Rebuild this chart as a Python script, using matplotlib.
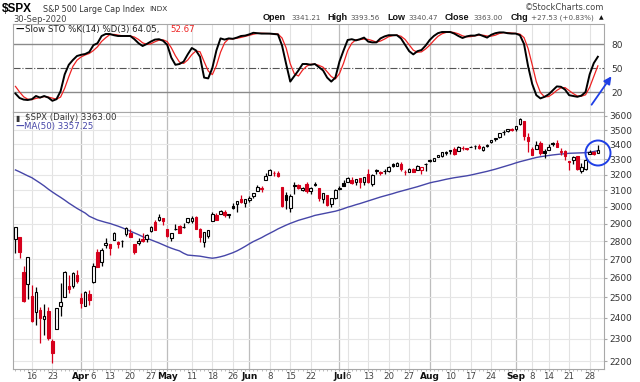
import numpy as np
import matplotlib.pyplot as plt
from matplotlib.patches import Ellipse, FancyArrowPatch
from matplotlib.ticker import FixedLocator, NullLocator

# S&P 500 daily candles, 10-Mar-2020 .. 30-Sep-2020
prev_close = 2746.56
opens = [
    2813.48, 2825.60, 2630.86, 2569.99,
    2508.59, 2425.66, 2436.50, 2393.48, 2431.94,
    2290.71, 2344.44, 2457.77, 2501.29, 2555.87,
    2558.98, 2614.69,
    2498.08, 2458.54, 2514.92,
    2578.28, 2738.65, 2685.00, 2776.99,
    2782.46, 2805.10, 2795.64, 2799.34, 2842.43,
    2845.62, 2784.81, 2787.89, 2810.42, 2812.64,
    2854.65, 2909.96, 2918.46, 2930.91,
    2869.09,
    2815.01, 2868.88, 2883.14, 2878.26, 2908.83,
    2915.46, 2939.50, 2865.86, 2794.54, 2829.95,
    2913.86, 2948.59, 2953.63, 2969.95, 2948.05,
    3004.08, 3015.65, 3046.61, 3025.17,
    3038.78, 3064.78, 3098.90, 3111.56, 3163.84,
    3199.92, 3213.32, 3213.42, 3123.53, 3071.04,
    2993.76, 3131.00, 3136.13, 3101.64, 3140.29,
    3094.42, 3138.70, 3114.40, 3046.60, 3073.20,
    3018.59, 3050.20,
    3105.92, 3143.64,
    3155.29, 3166.44, 3153.07, 3176.17, 3152.47,
    3205.08, 3141.11, 3225.98, 3208.36, 3224.21,
    3224.29, 3268.52, 3254.86, 3271.64, 3218.58,
    3219.84, 3234.27, 3227.22, 3231.76, 3270.45,
    3288.26, 3289.92, 3317.37, 3323.17, 3340.05,
    3356.04, 3370.34, 3355.46, 3372.95, 3368.66,
    3380.86, 3387.04, 3392.51, 3360.48, 3386.01,
    3418.09, 3435.95, 3449.97, 3485.14, 3494.69,
    3509.73,
    3507.44, 3543.76, 3564.74, 3453.60,
    3371.88, 3369.82, 3412.56, 3352.70,
    3363.56, 3407.73, 3411.23, 3346.86, 3357.38,
    3285.57, 3295.75, 3320.11, 3226.14, 3236.66,
    3333.90, 3350.92, 3341.21,
]
highs = [
    2882.59, 2825.60, 2660.95, 2711.33,
    2562.98, 2553.93, 2453.57, 2466.97, 2453.01,
    2300.73, 2449.71, 2571.42, 2637.01, 2615.91,
    2631.80, 2641.39,
    2522.75, 2533.22, 2538.18,
    2676.85, 2756.89, 2760.75, 2818.57,
    2782.46, 2851.85, 2801.88, 2806.51, 2879.22,
    2868.98, 2785.54, 2815.10, 2844.90, 2842.71,
    2887.72, 2921.15, 2954.86, 2930.91,
    2869.09,
    2844.24, 2898.23, 2891.11, 2901.92, 2932.16,
    2944.25, 2945.82, 2874.14, 2852.80, 2865.01,
    2968.09, 2964.21, 2980.29, 2978.50, 2956.76,
    3021.72, 3036.25, 3068.67, 3049.17,
    3062.18, 3081.07, 3130.94, 3128.91, 3211.72,
    3233.13, 3222.71, 3223.27, 3123.53, 3088.42,
    3079.76, 3153.45, 3141.16, 3120.00, 3155.53,
    3120.92, 3154.90, 3115.01, 3086.25, 3073.73,
    3053.89, 3111.51,
    3128.44, 3165.81,
    3182.59, 3184.15, 3171.80, 3179.78, 3186.82,
    3235.32, 3200.95, 3238.28, 3220.39, 3233.52,
    3258.61, 3277.29, 3279.32, 3279.99, 3227.26,
    3241.43, 3243.72, 3264.74, 3250.92, 3272.17,
    3302.73, 3306.84, 3330.77, 3351.03, 3352.54,
    3363.29, 3381.01, 3387.89, 3387.24, 3378.51,
    3387.59, 3395.06, 3399.54, 3390.80, 3399.96,
    3432.09, 3444.21, 3481.07, 3501.38, 3509.23,
    3514.77,
    3528.03, 3588.11, 3564.85, 3479.15,
    3379.97, 3424.77, 3425.55, 3368.95,
    3402.93, 3419.48, 3428.92, 3375.17, 3362.27,
    3285.57, 3320.31, 3323.35, 3278.70, 3306.88,
    3360.74, 3357.92, 3393.56,
]
lows = [
    2734.00, 2707.22, 2478.86, 2492.37,
    2380.94, 2367.04, 2280.52, 2319.78, 2295.56,
    2191.86, 2344.44, 2407.53, 2500.72, 2520.02,
    2545.28, 2571.15,
    2447.49, 2455.79, 2459.96,
    2574.57, 2657.67, 2663.30, 2762.36,
    2721.17, 2805.10, 2761.54, 2764.32, 2830.88,
    2820.43, 2727.10, 2775.95, 2794.26, 2791.76,
    2852.89, 2860.71, 2912.16, 2892.47,
    2821.61,
    2797.85, 2863.55, 2847.65, 2876.48, 2902.88,
    2903.44, 2869.59, 2793.15, 2766.64, 2816.78,
    2913.86, 2922.35, 2953.63, 2938.57, 2933.59,
    2988.17, 2969.75, 3023.40, 2998.61,
    3031.54, 3051.64, 3098.90, 3090.41, 3163.84,
    3196.00, 3193.11, 3181.49, 2999.49, 2984.47,
    2965.66, 3076.06, 3108.03, 3093.51, 3083.11,
    3079.39, 3127.12, 3032.13, 3024.01, 3004.63,
    2999.74, 3047.83,
    3101.17, 3124.52,
    3155.29, 3142.93, 3136.53, 3115.70, 3136.22,
    3149.43, 3127.66, 3200.76, 3198.59, 3205.65,
    3215.16, 3247.77, 3253.10, 3222.66, 3200.05,
    3214.25, 3216.17, 3227.22, 3204.13, 3220.26,
    3284.53, 3286.37, 3317.37, 3318.14, 3328.72,
    3335.44, 3326.44, 3355.46, 3363.35, 3361.64,
    3379.22, 3370.15, 3369.66, 3354.69, 3379.31,
    3413.13, 3425.84, 3444.15, 3468.35, 3484.32,
    3493.25,
    3494.60, 3535.23, 3427.41, 3349.63,
    3329.27, 3366.84, 3329.25, 3310.47,
    3363.56, 3389.25, 3384.45, 3328.82, 3292.40,
    3229.10, 3270.95, 3232.57, 3209.45, 3228.44,
    3332.91, 3327.54, 3340.47,
]
closes = [
    2882.23, 2741.38, 2480.64, 2711.02,
    2386.13, 2529.19, 2398.10, 2409.39, 2304.92,
    2237.40, 2447.33, 2475.56, 2630.07, 2541.47,
    2626.65, 2584.59,
    2470.50, 2526.90, 2488.65,
    2663.68, 2659.41, 2749.98, 2789.82,
    2761.63, 2846.06, 2783.36, 2799.55, 2874.56,
    2823.16, 2736.56, 2799.31, 2797.80, 2836.74,
    2878.48, 2863.39, 2939.51, 2912.43,
    2830.71,
    2842.74, 2868.44, 2848.42, 2881.19, 2929.80,
    2930.32, 2870.12, 2820.00, 2852.50, 2863.70,
    2953.91, 2922.94, 2971.61, 2948.51, 2955.45,
    2991.77, 3036.13, 3029.73, 3044.31,
    3055.73, 3080.82, 3122.87, 3112.35, 3193.93,
    3232.39, 3207.18, 3190.14, 3002.10, 3041.31,
    3066.59, 3124.74, 3113.49, 3115.34, 3097.74,
    3117.86, 3131.29, 3050.33, 3083.76, 3009.05,
    3053.24, 3100.29,
    3115.86, 3130.01,
    3179.72, 3145.32, 3169.94, 3152.05, 3185.04,
    3155.22, 3197.52, 3226.56, 3215.57, 3224.73,
    3251.84, 3257.30, 3276.02, 3235.66, 3215.63,
    3239.41, 3218.44, 3258.44, 3246.22, 3271.12,
    3294.61, 3306.51, 3327.77, 3349.16, 3351.28,
    3360.47, 3333.69, 3380.35, 3373.43, 3372.85,
    3381.99, 3389.78, 3374.85, 3385.51, 3397.16,
    3431.28, 3443.62, 3478.73, 3484.55, 3508.01,
    3500.31,
    3526.65, 3580.84, 3455.06, 3426.96,
    3331.84, 3398.96, 3339.19, 3340.97,
    3383.54, 3401.20, 3385.49, 3357.01, 3319.47,
    3281.06, 3315.57, 3236.92, 3246.59, 3298.46,
    3351.60, 3335.47, 3363.00,
]
ma50 = [
    3230, 3218, 3205, 3192, 3180, 3163, 3146, 3128, 3108, 3090,
    3073, 3057, 3040, 3022, 3006, 2990, 2976, 2962, 2943, 2932,
    2921, 2914, 2907, 2901, 2893, 2885, 2876, 2866, 2856, 2846,
    2836, 2825, 2816, 2807, 2798, 2789, 2779, 2769, 2760, 2752,
    2745, 2732, 2722, 2720, 2718, 2716, 2712, 2708, 2705, 2708,
    2713, 2719, 2727, 2735, 2745, 2757, 2770, 2784, 2797, 2808,
    2819, 2832, 2844, 2856, 2869, 2880, 2891, 2901, 2910, 2919,
    2926, 2933, 2940, 2948, 2953, 2958, 2963, 2968, 2973, 2980,
    2988, 2997, 3004, 3012, 3019, 3027, 3035, 3043, 3051, 3059,
    3066, 3073, 3080, 3088, 3095, 3102, 3109, 3116, 3123, 3131,
    3139, 3147, 3153, 3158, 3164, 3170, 3175, 3180, 3184, 3188,
    3192, 3197, 3203, 3209, 3215, 3221, 3228, 3235, 3243, 3251,
    3259, 3267, 3276, 3284, 3291, 3298, 3305, 3312, 3317, 3321,
    3325, 3329, 3332, 3335, 3337, 3340, 3341, 3342, 3343, 3344,
    3347, 3352, 3357.25,
]
sto_k = [
    18, 12.5, 10.5, 10, 11, 15, 13, 15, 13, 9,
    11, 21, 42, 54, 60, 65, 66.5, 67.5, 70, 78.5,
    81, 90, 92.5, 92.5, 91, 90, 90, 90, 90, 86,
    81, 77.5, 80, 83, 85.5, 86, 84, 79, 63, 54,
    55, 58, 67, 75, 72, 64, 38, 37, 50, 72,
    87, 85.5, 87, 86.5, 88, 90, 90.5, 92, 94, 93.5,
    93, 93, 93, 92.5, 92, 78, 55, 33, 40, 47,
    55, 55, 54, 55, 51, 47, 38, 33, 38, 58,
    72, 85, 86, 84.5, 86, 88, 83, 82, 82, 87,
    89.5, 91, 91, 91, 87, 79, 71, 67, 71, 72.5,
    78, 85, 90, 93.5, 95, 95, 95, 93, 90, 87.5,
    89.5, 90.5, 90.5, 92, 90, 88, 91.5, 93.5, 94.5, 94.5,
    93.5, 93, 93, 91, 80, 52, 30, 16, 12, 14,
    17, 22, 27, 26.5, 23, 16, 15, 14, 15.5, 20,
    42, 56, 64.05,
]
sto_d = [
    27, 20, 14, 11, 10.5, 12, 13, 14.3, 13.7, 12.3,
    11, 13.7, 24.7, 39, 52, 59.7, 63.8, 66.3, 68.2, 71.8,
    76.5, 83.2, 87.8, 91.7, 92, 91.2, 90.3, 90, 90, 88.7,
    85.7, 81.5, 79.5, 80.2, 82.8, 84.8, 85.2, 83, 75.3, 65.3,
    57.3, 55.7, 60, 66.7, 71.3, 70.3, 58, 46.3, 41.7, 53,
    69.7, 81.5, 86.5, 86.3, 87.2, 88.2, 89.5, 90.8, 92.2, 93.2,
    93.5, 93.2, 93, 92.8, 92.5, 87.5, 75, 55.3, 42.7, 40,
    47.3, 52.3, 54.7, 54.7, 53.3, 51, 45.3, 39.3, 36.3, 43,
    56, 71.7, 81, 85.2, 85.5, 86.2, 85.7, 84.3, 82.3, 83.7,
    86.2, 89.2, 90.5, 91, 89.7, 85.7, 79, 72.3, 69.7, 70.2,
    73.8, 78.5, 84.3, 89.5, 92.8, 94.5, 95, 94.3, 92.7, 90.2,
    89, 89.2, 90.2, 91, 91, 90, 89.8, 91, 93.2, 94.2,
    94.2, 93.7, 93.2, 92.3, 88, 74.3, 54, 32.7, 19.3, 14,
    14.3, 17.7, 22, 25.2, 25.5, 21.8, 18, 15, 14.8, 16.5,
    25.8, 39.3, 52.67,
]

# date axis labels (trading-day index -> label)
tick_idx = [4, 9, 16, 19, 23, 28, 33, 37, 43, 48, 53, 57, 62, 67, 72,
            79, 81, 86, 91, 96, 101, 106, 111, 116, 122, 126, 130, 135, 140]
tick_lbl = ['16', '23', 'Apr', '6', '13', '20', '27', 'May', '11', '18', '26',
            'Jun', '8', '15', '22', 'Jul', '6', '13', '20', '27', 'Aug', '10',
            '17', '24', 'Sep', '8', '14', '21', '28']
months = {'Apr', 'May', 'Jun', 'Jul', 'Aug', 'Sep'}
price_levels = [2200, 2300, 2400, 2500, 2600, 2700, 2800, 2900,
                3000, 3100, 3200, 3300, 3400, 3500, 3600]

RED = '#d6001c'
BLUE = '#1f3fe6'
MA_COL = '#4646a8'
W, H = 640, 382


def fx(px):
    return px / W


def fy(py):
    return 1 - py / H


n = len(closes)
x = np.arange(n)
o = np.array(opens)
c = np.array(closes)
hi = np.array(highs)
lo = np.array(lows)
pc = np.concatenate([[prev_close], c[:-1]])

fig = plt.figure(figsize=(6.4, 3.82), dpi=100)
ax_s = fig.add_axes([fx(13), fy(112), fx(604) - fx(13), fy(24) - fy(112)])
ax = fig.add_axes([fx(13), fy(369), fx(604) - fx(13), fy(112) - fy(369)])

xlim = (-0.6, 143.5)

# vertical grid for both panels
for a in (ax_s, ax):
    for t, l in zip(tick_idx, tick_lbl):
        if l in months:
            a.axvline(t, color='#bdbdbd', lw=0.9, zorder=0)
        else:
            a.axvline(t, color='#e2e2e2', lw=0.8, zorder=0)
    for s in a.spines.values():
        s.set_color('#a8a8a8')
        s.set_linewidth(0.8)
    a.set_xlim(*xlim)

# ---- stochastic panel
ax_s.axhline(80, color='#8a8a8a', lw=1.0, zorder=1)
ax_s.axhline(20, color='#8a8a8a', lw=1.0, zorder=1)
ax_s.axhline(50, color='#555555', lw=0.8, ls='-.', zorder=1)
ax_s.plot(x, sto_d, color='#ee2222', lw=0.9, zorder=3)
ax_s.plot(x, sto_k, color='black', lw=1.4, zorder=4)
ax_s.set_ylim(-5, 105)
ax_s.set_xticks([])
ax_s.yaxis.tick_right()
ax_s.set_yticks([20, 50, 80])
ax_s.set_yticklabels(['20', '50', '80'])
ax_s.tick_params(axis='y', length=0, pad=5, labelsize=6.5, labelcolor='#333333')

# ---- price panel
ax.set_yscale('log')
ax.set_ylim(2165, 3629)
for p in price_levels:
    ax.axhline(p, color='#e6e6e6', lw=0.8, zorder=0)

ax.plot(x, ma50, color=MA_COL, lw=1.0, zorder=2)

up = c >= pc
col = np.where(up, 'black', RED)
hollow = c > o
ax.vlines(x, lo, hi, colors=col, lw=0.9, zorder=3)
body_lo = np.minimum(o, c)
body_hi = np.maximum(o, c)
body_hi = np.maximum(body_hi, body_lo * 1.0004)
face = [('white' if h else cc) for h, cc in zip(hollow, col)]
ax.bar(x, body_hi - body_lo, bottom=body_lo, width=0.62, color=face,
       edgecolor=col, linewidth=0.8, zorder=4)

ax.yaxis.tick_right()
ax.yaxis.set_major_locator(FixedLocator(price_levels))
ax.yaxis.set_minor_locator(NullLocator())
ax.set_yticklabels([str(p) for p in price_levels])
ax.tick_params(axis='y', length=2, color='#a8a8a8', pad=2, labelsize=6.5,
               labelcolor='#333333')

ax.set_xticks(tick_idx)
ax.set_xticklabels(tick_lbl)
ax.set_xticks(x, minor=True)
ax.tick_params(axis='x', which='major', length=1.5, color='#a8a8a8', pad=0.8,
               labelsize=6.2, labelcolor='#444444')
ax.tick_params(axis='x', which='minor', length=1.2, color='#b0b0b0')
for lab in ax.get_xticklabels():
    if lab.get_text() in months:
        lab.set_fontweight('bold')
        lab.set_color('#111111')
        lab.set_fontsize(6.5)

# ---- header texts
fig.text(fx(2), fy(9), '$SPX', fontsize=8.5, fontweight='bold', va='center',
         family='Liberation Sans')
fig.text(fx(43), fy(9), 'S&P 500 Large Cap Index', fontsize=5.8, va='center',
         color='#333333')
fig.text(fx(149), fy(9), 'INDX', fontsize=5.3, va='center', color='#333333')
fig.text(fx(604), fy(7), '\u00a9StockCharts.com', fontsize=6, va='center',
         ha='right', color='#444444')
fig.text(fx(13), fy(19), '30-Sep-2020', fontsize=6, va='center', color='#444444')

hdr = [(263, 'Open', True), (291, '3341.21', False),
       (327, 'High', True), (350, '3393.56', False),
       (387, 'Low', True), (408, '3340.47', False),
       (445, 'Close', True), (473, '3363.00', False),
       (511, 'Chg', True), (531, '+27.53 (+0.83%)', False)]
for px, s, bold in hdr:
    if bold:
        fig.text(fx(px), fy(18), s, fontsize=6.5, fontweight='bold',
                 va='center', color='#111111', family='Liberation Sans')
    else:
        fig.text(fx(px), fy(18), s, fontsize=5.1, va='center', color='#555555')
fig.text(fx(599), fy(18), '\u25b2', fontsize=4.3, va='center', color='#111111')

# panel legends
fig.text(fx(15), fy(29.5), '\u2014', fontsize=6, va='center', color='black',
         fontweight='bold')
fig.text(fx(25), fy(29.5), 'Slow STO %K(14) %D(3) 64.05,', fontsize=6.2,
         va='center', color='#222222')
fig.text(fx(170), fy(29.5), '52.67', fontsize=6.2, va='center', color='#ee2222')

fig.text(fx(15), fy(118), '\u25ae', fontsize=5.5, va='center', color='#333333')
fig.text(fx(25), fy(118), '$SPX (Daily) 3363.00', fontsize=6.2, va='center',
         color='#333333')
fig.text(fx(15), fy(126.5), '\u2014', fontsize=6, va='center', color=MA_COL,
         fontweight='bold')
fig.text(fx(24), fy(126.5), 'MA(50) 3357.25', fontsize=6.2, va='center',
         color=MA_COL)

# annotations
fig.add_artist(Ellipse((fx(598), fy(153)), 25 / W, 25 / H,
                       transform=fig.transFigure, fill=False,
                       edgecolor=BLUE, lw=1.4, zorder=10))
fig.add_artist(FancyArrowPatch((fx(590), fy(107)), (fx(613), fy(74)),
                               transform=fig.transFigure, arrowstyle='-|>',
                               mutation_scale=11, color=BLUE, lw=1.3,
                               zorder=10))

fig.savefig('out.png', dpi=100)
